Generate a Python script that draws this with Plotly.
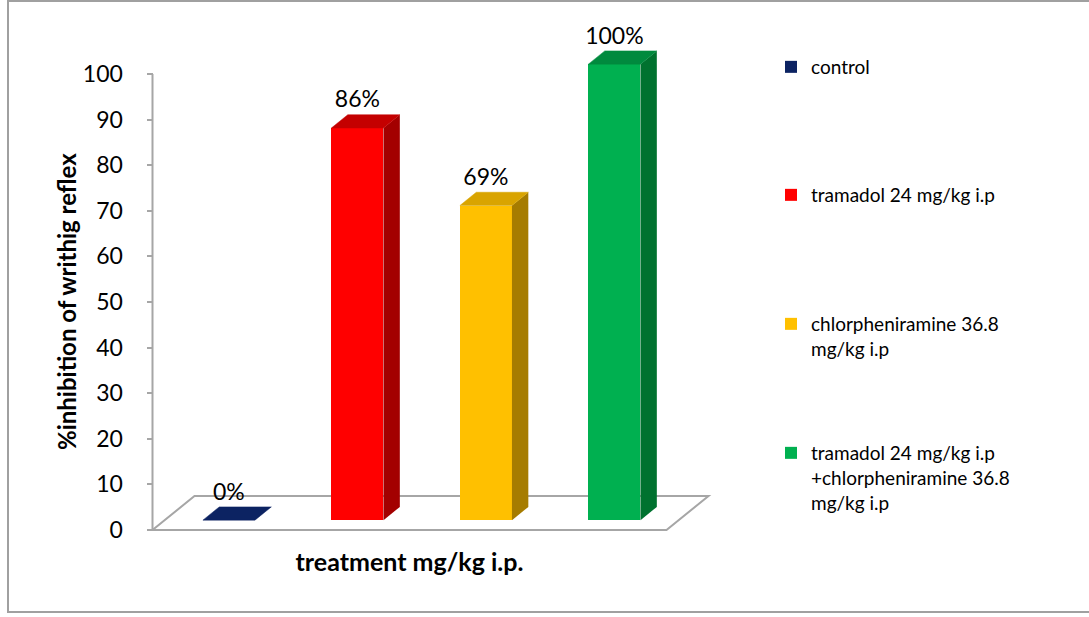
import plotly.graph_objects as go

# ---- data ----
categories = [
    "control",
    "tramadol 24 mg/kg i.p",
    "chlorpheniramine 36.8<br>mg/kg i.p",
    "tramadol 24 mg/kg i.p<br>+chlorpheniramine 36.8<br>mg/kg i.p",
]
inhibition = [0, 86, 69, 100]
value_labels = ["0%", "86%", "69%", "100%"]
y_ticks = [0, 10, 20, 30, 40, 50, 60, 70, 80, 90, 100]

# ---- styling ----
front_colors = ["#0C2362", "#FF0000", "#FFC000", "#00B050"]
top_colors = ["#0C2362", "#C40000", "#D9A400", "#008A3E"]
side_colors = ["#0C2362", "#A30000", "#A67C00", "#00722F"]
FONT = "Lato"
GRID = "#A6A6A6"

# pseudo-3D geometry (depth offsets expressed in axis units)
DX = 42 / 128.5        # horizontal shift of full floor depth, in category units
DY = 34 / 4.56         # vertical shift of full floor depth, in value units
D_FRONT, D_BACK = 0.29, 0.68
HALF_W = 0.2025
LABEL_LIFT = 13 / 4.56

fig = go.Figure()

for i, (name, v) in enumerate(zip(categories, inhibition)):
    xf = i + D_FRONT * DX
    xb = i + D_BACK * DX
    yf = D_FRONT * DY
    yb = D_BACK * DY
    legend_id = "legend" if i == 0 else f"legend{i + 1}"
    # front face
    fig.add_trace(go.Bar(
        x=[xf], y=[v], base=[yf], width=[2 * HALF_W],
        marker=dict(color=front_colors[i], line=dict(width=0)),
        name=name, legend=legend_id, hoverinfo="skip",
    ))
    # right side face
    if v > 0:
        fig.add_trace(go.Scatter(
            x=[xf + HALF_W, xb + HALF_W, xb + HALF_W, xf + HALF_W, xf + HALF_W],
            y=[yf, yb, yb + v, yf + v, yf],
            mode="lines", fill="toself", fillcolor=side_colors[i],
            line=dict(width=0, color=side_colors[i]),
            showlegend=False, hoverinfo="skip",
        ))
    # top face
    fig.add_trace(go.Scatter(
        x=[xf - HALF_W, xf + HALF_W, xb + HALF_W, xb - HALF_W, xf - HALF_W],
        y=[yf + v, yf + v, yb + v, yb + v, yf + v],
        mode="lines", fill="toself", fillcolor=top_colors[i],
        line=dict(width=0.5, color=top_colors[i]),
        showlegend=False, hoverinfo="skip",
    ))

# value labels above each bar
fig.add_trace(go.Scatter(
    x=[i + D_FRONT * DX for i in range(len(inhibition))],
    y=[v + D_BACK * DY + LABEL_LIFT for v in inhibition],
    mode="text", text=value_labels, textposition="middle center",
    textfont=dict(family=FONT, size=23, color="#000000"),
    showlegend=False, hoverinfo="skip", cliponaxis=False,
))

n = len(categories)
shapes = [
    # floor
    dict(type="path", xref="x", yref="y",
         path=f"M -0.5 0 L {n - 0.5} 0 L {n - 0.5 + DX} {DY} L {-0.5 + DX} {DY} Z",
         line=dict(color=GRID, width=2), fillcolor="rgba(0,0,0,0)", layer="below"),
    # value axis line
    dict(type="line", xref="x", yref="y", x0=-0.5, x1=-0.5, y0=0, y1=100,
         line=dict(color=GRID, width=2), layer="below"),
    # chart border
    dict(type="rect", xref="paper", yref="paper",
         x0=(8 - 100) / 619, x1=(1100 - 100) / 619,
         y0=(545 - 612) / 525, y1=(545 - 1) / 525,
         line=dict(color="#A0A0A0", width=2), fillcolor="rgba(0,0,0,0)"),
]

legend_tops = [48, 176, 305, 434]
legend_common = dict(
    x=(771 - 100) / 619, xanchor="left", yanchor="top",
    bgcolor="rgba(0,0,0,0)", borderwidth=0, valign="top",
    font=dict(family=FONT, size=19, color="#000000"),
)
legends = {}
for i, top in enumerate(legend_tops):
    key = "legend" if i == 0 else f"legend{i + 1}"
    legends[key] = dict(legend_common, y=(545 - top) / 525)

# value axis title, centred on the floor-to-top span
y_title = dict(
    text="<b>%inhibition of writhig reflex</b>", textangle=-90,
    xref="paper", yref="paper", x=(66 - 100) / 619, y=(545 - 302) / 525,
    xanchor="center", yanchor="middle", showarrow=False,
    font=dict(family=FONT, size=24, color="#000000"),
)

fig.update_layout(
    width=1089, height=617,
    margin=dict(l=100, r=370, t=20, b=72),
    paper_bgcolor="#FFFFFF", plot_bgcolor="#FFFFFF",
    font=dict(family=FONT, color="#000000"),
    bargap=0, showlegend=True,
    xaxis=dict(
        range=[(100 - 152.5) / 128.5 - 0.5, (719 - 152.5) / 128.5 - 0.5],
        showgrid=False, zeroline=False, showline=False,
        showticklabels=False, ticks="",
        title=dict(text="<b>treatment mg/kg i.p.</b>",
                   font=dict(family=FONT, size=25, color="#000000"), standoff=8),
    ),
    yaxis=dict(
        range=[(530 - 545) / 4.56, (530 - 20) / 4.56],
        anchor="free", position=(152.5 - 100) / 619,
        showgrid=False, zeroline=False, showline=False,
        tickmode="array", tickvals=y_ticks, ticks="outside", ticklen=6,
        tickcolor=GRID, tickwidth=1.5, ticklabelstandoff=19,
        tickfont=dict(family=FONT, size=23, color="#000000"),
    ),
    annotations=[y_title],
    shapes=shapes,
    **legends,
)

fig.write_html("out.html")
